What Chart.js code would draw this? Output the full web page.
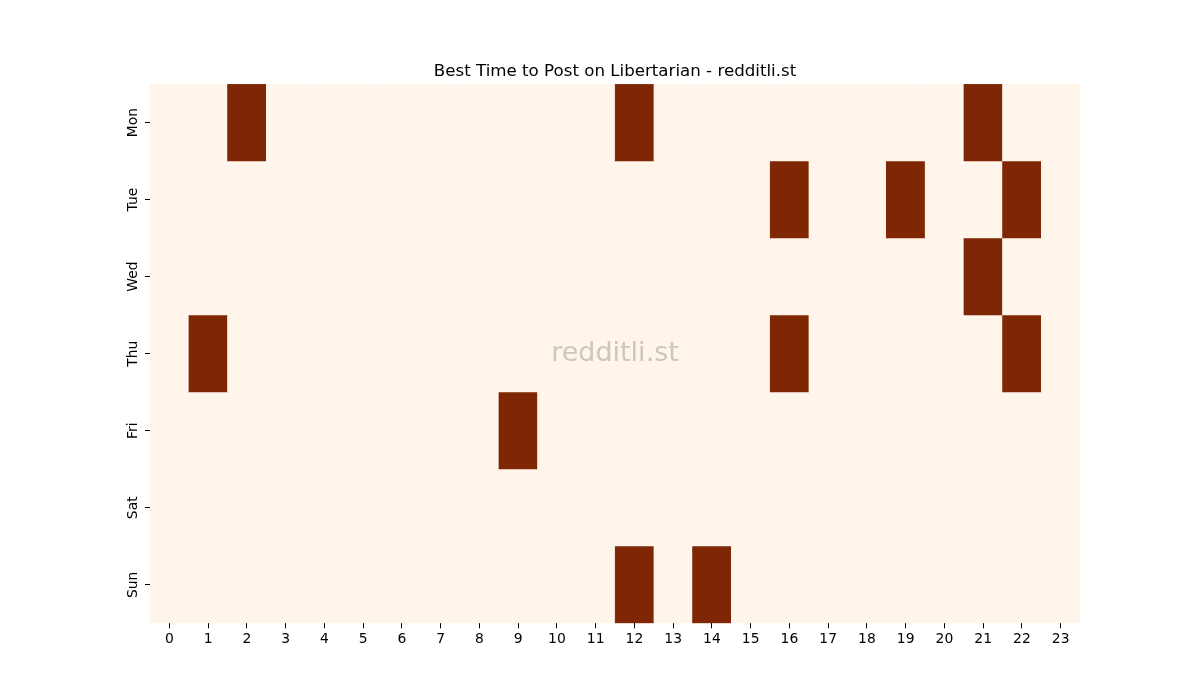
<!DOCTYPE html>
<html>
<head>
<meta charset="utf-8">
<script src="https://cdn.jsdelivr.net/npm/chart.js@4/dist/chart.umd.min.js"></script>
<style>
  html, body { margin: 0; padding: 0; background: #fff; }
  #wrap { width: 1200px; height: 700px; }
</style>
</head>
<body>
<div id="wrap"><canvas id="heat" width="1200" height="700"></canvas></div>
<script>
// 時段標籤與星期
var hours = ['0','1','2','3','4','5','6','7','8','9','10','11','12','13','14','15','16','17','18','19','20','21','22','23'];
var days = ['Mon', 'Tue', 'Wed', 'Thu', 'Fri', 'Sat', 'Sun'];

// 每天的熱度 (1 = 最佳時段)
var mon = [0,0,1,0,0,0,0,0,0,0,0,0,1,0,0,0,0,0,0,0,0,1,0,0];
var tue = [0,0,0,0,0,0,0,0,0,0,0,0,0,0,0,0,1,0,0,1,0,0,1,0];
var wed = [0,0,0,0,0,0,0,0,0,0,0,0,0,0,0,0,0,0,0,0,0,1,0,0];
var thu = [0,1,0,0,0,0,0,0,0,0,0,0,0,0,0,0,1,0,0,0,0,0,1,0];
var fri = [0,0,0,0,0,0,0,0,0,1,0,0,0,0,0,0,0,0,0,0,0,0,0,0];
var sat = [0,0,0,0,0,0,0,0,0,0,0,0,0,0,0,0,0,0,0,0,0,0,0,0];
var sun = [0,0,0,0,0,0,0,0,0,0,0,0,1,0,1,0,0,0,0,0,0,0,0,0];
var grid = [mon, tue, wed, thu, fri, sat, sun];

var LOW = '#fff5eb';
var HIGH = '#7f2704';

var datasets = grid.map(function(row, i) {
  var colors = row.map(function(v) { return v ? HIGH : LOW; });
  return {
    label: days[i],
    data: row.map(function() { return 1; }),
    backgroundColor: colors,
    borderColor: colors,
    borderWidth: 0.5,
    borderSkipped: false,
    barPercentage: 1,
    categoryPercentage: 1
  };
});

// 浮水印
var watermark = {
  id: 'watermark',
  afterDatasetsDraw: function(chart) {
    var a = chart.chartArea, ctx = chart.ctx;
    ctx.save();
    ctx.font = '27px "DejaVu Sans"';
    ctx.fillStyle = 'rgba(128,128,128,0.4)';
    ctx.textAlign = 'center';
    ctx.textBaseline = 'middle';
    ctx.fillText('redditli.st', (a.left + a.right) / 2, (a.top + a.bottom) / 2);
    ctx.restore();
  }
};

new Chart(document.getElementById('heat').getContext('2d'), {
  type: 'bar',
  data: { labels: hours, datasets: datasets },
  plugins: [watermark],
  options: {
    responsive: false,
    animation: false,
    layout: { padding: { left: 0, right: 120, top: 0, bottom: 49 } },
    plugins: {
      legend: { display: false },
      tooltip: { enabled: false },
      title: {
        display: true,
        fullSize: false,
        text: 'Best Time to Post on Libertarian - redditli.st',
        color: '#000',
        font: { family: 'DejaVu Sans', size: 16.67, weight: 'normal' },
        padding: { top: 62, bottom: 2 }
      }
    },
    scales: {
      x: {
        stacked: true,
        offset: true,
        border: { display: false },
        grid: { display: true, offset: false, drawOnChartArea: false, tickLength: 5, tickColor: '#000', tickWidth: 1 },
        ticks: { color: '#000', font: { family: 'DejaVu Sans', size: 13.9 }, padding: 3, maxRotation: 0, autoSkip: false }
      },
      y: {
        stacked: true,
        reverse: true,
        min: 0,
        max: 7,
        border: { display: false },
        afterFit: function(scale) { scale.width = 150; },
        afterBuildTicks: function(scale) {
          scale.ticks = days.map(function(d, i) { return { value: i + 0.5 }; });
        },
        grid: { display: true, drawOnChartArea: false, tickLength: 5, tickColor: '#000', tickWidth: 1 },
        ticks: {
          color: '#000',
          font: { family: 'DejaVu Sans', size: 13.9 },
          minRotation: 90,
          maxRotation: 90,
          crossAlign: 'center',
          padding: -4,
          autoSkip: false,
          callback: function(v) { return days[Math.floor(v)]; }
        }
      }
    }
  }
});
</script>
</body>
</html>
